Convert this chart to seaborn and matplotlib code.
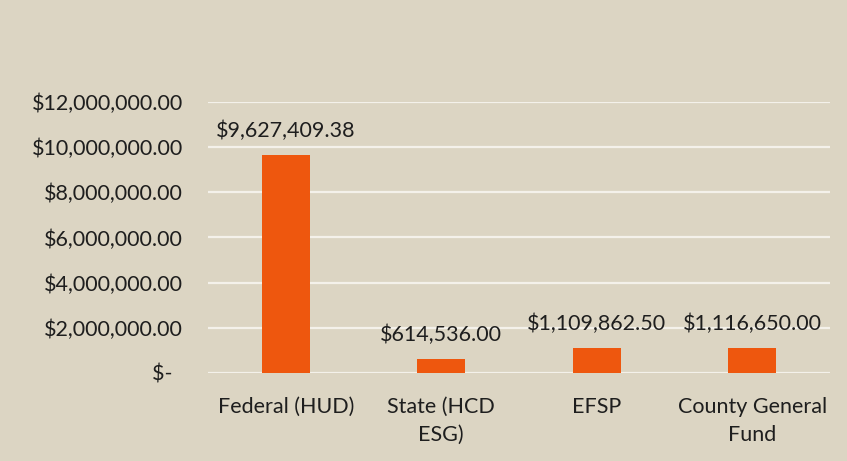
import matplotlib
matplotlib.use("Agg")
import matplotlib.pyplot as plt
import pandas as pd
import seaborn as sns
from matplotlib.ticker import FuncFormatter

categories = ["Federal (HUD)", "State (HCD\nESG)", "EFSP", "County General\nFund"]
amounts = [9627409.38, 614536.00, 1109862.50, 1116650.00]
value_labels = ["$9,627,409.38", "$614,536.00", "$1,109,862.50", "$1,116,650.00"]
y_ticks = [0, 2000000, 4000000, 6000000, 8000000, 10000000, 12000000]

df = pd.DataFrame({"Source": categories, "Amount": amounts})

bg = "#DCD5C3"
bar_color = "#EE570E"

sns.set_style("white")
plt.rcParams["font.family"] = ["Lato", "DejaVu Sans"]

fig = plt.figure(figsize=(8.47, 4.61), dpi=100, facecolor=bg)
ax = fig.add_axes([0.2456, 0.191, 0.7344, 0.588])
ax.set_facecolor(bg)

sns.barplot(data=df, x="Source", y="Amount", color=bar_color, width=0.31,
            saturation=1, linewidth=0, ax=ax, zorder=3)

ax.set_ylim(0, 12000000)
ax.set_yticks(y_ticks)


def money(v, pos):
    if v == 0:
        return "$-  "
    return "${:,.2f}".format(v)


ax.yaxis.set_major_formatter(FuncFormatter(money))
ax.grid(axis="y", color="#F4F1EA", linewidth=1.6, zorder=0)
ax.set_axisbelow(True)
for s in ax.spines.values():
    s.set_visible(False)

fs = 15.5
ax.tick_params(axis="y", length=0, pad=18, labelsize=fs, labelcolor="#1E1E1E")
ax.tick_params(axis="x", length=0, pad=17, labelsize=fs, labelcolor="#1E1E1E")
for lab in ax.get_xticklabels():
    lab.set_linespacing(1.5)
ax.set_xlabel("")
ax.set_ylabel("")

ax.bar_label(ax.containers[0], labels=value_labels, padding=10,
             fontsize=fs, color="#1E1E1E")

fig.savefig("out.png", dpi=100, facecolor=bg)
